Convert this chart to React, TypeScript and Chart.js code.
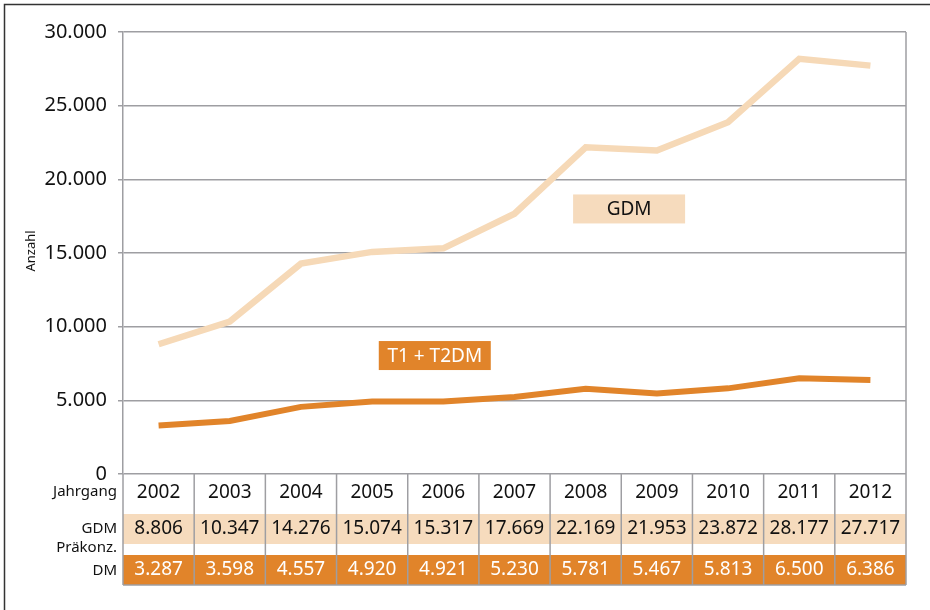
import React, { useEffect, useRef } from 'react';
import { Chart, registerables } from 'chart.js';
Chart.register(...registerables);

const years = ['2002', '2003', '2004', '2005', '2006', '2007', '2008', '2009', '2010', '2011', '2012'];
const gdmValues = [8806, 10347, 14276, 15074, 15317, 17669, 22169, 21953, 23872, 28177, 27717];
const t1t2Values = [3287, 3598, 4557, 4920, 4921, 5230, 5781, 5467, 5813, 6500, 6386];
const yAxisTitle = 'Anzahl';
const rowLabelYear = 'Jahrgang';
const rowLabelGdm = 'GDM';
const rowLabelPre = ['Präkonz.', 'DM'];
const seriesLabels = ['GDM', 'T1 + T2DM'];

const FONT = '"Noto Sans", sans-serif';
const PEACH = '#F6DBBD';
const PEACH_LINE = '#F6D9B7';
const ORANGE = '#E1842A';
const GRID = '#9e9ea2';

function fmt(n: number): string {
  return String(n).replace(/\B(?=(\d{3})+(?!\d))/g, '.');
}

const tablePlugin = {
  id: 'tablePlugin',
  afterDraw(chart: any) {
    const { ctx, chartArea } = chart;
    const { left, right, top, bottom } = chartArea;
    const xs = chart.scales.x;
    const ys = chart.scales.y;
    const n = years.length;
    const colW = (right - left) / n;
    ctx.save();

    // outer frame
    ctx.strokeStyle = '#333';
    ctx.lineWidth = 1.5;
    ctx.strokeRect(4.5, 4.5, 940, 700);

    // plot right border
    ctx.strokeStyle = GRID;
    ctx.lineWidth = 1.5;
    ctx.beginPath();
    ctx.moveTo(right, top);
    ctx.lineTo(right, bottom);
    ctx.stroke();

    // bands
    const yRowTop = bottom;
    const gdmTop = bottom + 40, gdmBot = bottom + 70;
    const preTop = bottom + 81, preBot = bottom + 111;
    ctx.fillStyle = PEACH;
    ctx.fillRect(left, gdmTop, right - left, gdmBot - gdmTop);
    ctx.fillStyle = ORANGE;
    ctx.fillRect(left, preTop, right - left, preBot - preTop);

    // vertical lines
    ctx.strokeStyle = GRID;
    ctx.lineWidth = 1.5;
    for (let i = 0; i <= n; i++) {
      const xx = left + i * colW;
      ctx.beginPath();
      ctx.moveTo(xx, yRowTop);
      ctx.lineTo(xx, preBot);
      ctx.stroke();
    }
    ctx.beginPath();
    ctx.moveTo(left, preBot);
    ctx.lineTo(right, preBot);
    ctx.stroke();

    // cell texts
    ctx.textAlign = 'center';
    ctx.textBaseline = 'middle';
    ctx.font = `19px ${FONT}`;
    for (let i = 0; i < n; i++) {
      const cx = xs.getPixelForValue(i);
      ctx.fillStyle = '#111';
      ctx.fillText(years[i], cx, bottom + 19);
      ctx.fillText(fmt(gdmValues[i]), cx, (gdmTop + gdmBot) / 2);
      ctx.fillStyle = '#fff';
      ctx.fillText(fmt(t1t2Values[i]), cx, (preTop + preBot) / 2);
    }

    // row labels
    ctx.textAlign = 'right';
    ctx.fillStyle = '#111';
    ctx.font = `15px ${FONT}`;
    const lx = left - 6;
    ctx.fillText(rowLabelYear, lx, bottom + 18);
    ctx.fillText(rowLabelGdm, lx, (gdmTop + gdmBot) / 2);
    ctx.fillText(rowLabelPre[0], lx, bottom + 74);
    ctx.fillText(rowLabelPre[1], lx, bottom + 97);

    // y axis title
    ctx.save();
    ctx.translate(31, (top + bottom) / 2 - 2);
    ctx.rotate(-Math.PI / 2);
    ctx.textAlign = 'center';
    ctx.font = `13px ${FONT}`;
    ctx.fillText(yAxisTitle, 0, 0);
    ctx.restore();

    // series label boxes
    const boxes = [
      { text: seriesLabels[0], xi: 6.61, yv: 17990, bg: PEACH, fg: '#111' },
      { text: seriesLabels[1], xi: 3.88, yv: 8040, bg: ORANGE, fg: '#fff' },
    ];
    ctx.textAlign = 'center';
    ctx.font = `19px ${FONT}`;
    for (const b of boxes) {
      const cx = xs.getPixelForValue(b.xi);
      const cy = ys.getPixelForValue(b.yv);
      ctx.fillStyle = b.bg;
      ctx.fillRect(cx - 56, cy - 14.5, 112, 29);
      ctx.fillStyle = b.fg;
      ctx.fillText(b.text, cx, cy + 1);
    }
    ctx.restore();
  },
};

export default function App() {
  const ref = useRef<HTMLCanvasElement>(null);
  useEffect(() => {
    const chart = new Chart(ref.current as HTMLCanvasElement, {
      type: 'line',
      data: {
        labels: years,
        datasets: [
          {
            label: seriesLabels[0],
            data: gdmValues,
            borderColor: PEACH_LINE,
            borderWidth: 6.5,
            pointRadius: 0,
            tension: 0,
          },
          {
            label: seriesLabels[1],
            data: t1t2Values,
            borderColor: ORANGE,
            borderWidth: 6,
            pointRadius: 0,
            tension: 0,
          },
        ],
      },
      options: {
        animation: false,
        responsive: false,
        layout: { padding: { left: 0, top: 32, right: 24, bottom: 136 } },
        plugins: { legend: { display: false }, tooltip: { enabled: false } },
        scales: {
          x: {
            display: false,
            offset: true,
          },
          y: {
            min: 0,
            max: 30000,
            afterFit: (s: any) => {
              s.width = 123;
            },
            ticks: {
              stepSize: 5000,
              color: '#111',
              padding: 11,
              font: { family: '"Noto Sans", sans-serif', size: 20 },
              callback: (v: any) => fmt(Number(v)),
            },
            grid: { color: GRID, lineWidth: 1.5, tickLength: 5 },
            border: { color: GRID, width: 1.5 },
          },
        },
      },
      plugins: [tablePlugin],
    });
    return () => chart.destroy();
  }, []);
  return (
    <div style={{ position: 'absolute', left: 0, top: 0, width: 930, height: 610, background: '#fff' }}>
      <canvas ref={ref} width={930} height={610} />
    </div>
  );
}
